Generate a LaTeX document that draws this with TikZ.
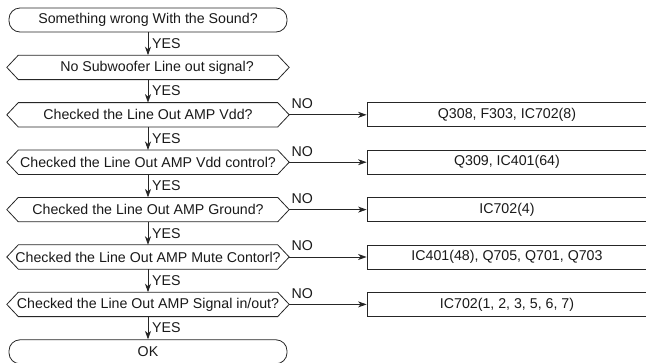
\documentclass[tikz,border=0pt]{standalone}
\usepackage{fontspec}
\setmainfont{Liberation Sans}
\usetikzlibrary{arrows.meta}
\begin{document}
\begin{tikzpicture}[x=1pt,y=-1pt,
  txt/.style={font=\fontsize{14.2}{16}\selectfont, text=black!90},
  ln/.style={draw=black!85, line width=0.8pt},
  term/.style={txt, ln, rounded corners=11pt, minimum width=278pt, minimum height=24pt, inner sep=0pt},
  hexnode/.style={txt, minimum width=282pt, minimum height=24pt, inner sep=0pt},
  resbox/.style={txt, ln, minimum width=280pt, minimum height=24pt, inner sep=0pt},
  arr/.style={ln, -{Stealth[length=8.5pt,width=6pt,inset=2.5pt]}},
  lbl/.style={txt, inner sep=0pt}]
\useasboundingbox (0,0) rectangle (646,362);

\node[term] (start) at (148,20) {Something wrong With the Sound?};
\node[hexnode] (h2) at (148,67.4) {\hspace{18pt}No Subwoofer Line out signal?};
\node[hexnode] (h3) at (148,114.8) {Checked the Line Out AMP Vdd?};
\node[hexnode] (h4) at (148,162.2) {Checked the Line Out AMP Vdd control?};
\node[hexnode] (h5) at (148,209.6) {Checked the Line Out AMP Ground?};
\node[hexnode] (h6) at (148,257) {Checked the Line Out AMP Mute Contorl?};
\node[hexnode] (h7) at (148,304.4) {Checked the Line Out AMP Signal in/out?};
\node[term] (ok) at (148,351.8) {OK};

\foreach \n in {h2,h3,h4,h5,h6,h7}{
  \draw[ln] ([xshift=11.5pt]\n.north west) -- ([xshift=-11.5pt]\n.north east) -- (\n.east)
    -- ([xshift=-11.5pt]\n.south east) -- ([xshift=11.5pt]\n.south west) -- (\n.west) -- cycle;
}

\node[resbox] (r3) at (507,114.8) {Q308, F303, IC702(8)};
\node[resbox] (r4) at (507,162.2) {Q309, IC401(64)};
\node[resbox] (r5) at (507,209.6) {IC702(4)};
\node[resbox] (r6) at (507,257) {IC401(48), Q705, Q701, Q703};
\node[resbox] (r7) at (507,304.4) {IC702(1, 2, 3, 5, 6, 7)};

\foreach \a/\b in {start/h2,h2/h3,h3/h4,h4/h5,h5/h6,h6/h7,h7/ok}{
  \draw[arr] (\a.south) -- (\b.north);
  \path (\a.south) -- (\b.north) node[midway, anchor=west, lbl, xshift=4pt] {YES};
}

\foreach \a/\b in {h3/r3,h4/r4,h5/r5,h6/r6,h7/r7}{
  \draw[arr] (\a.east) -- (\b.west);
  \node[lbl] at ([xshift=13pt,yshift=11pt]\a.east) {NO};
}
\end{tikzpicture}
\end{document}
